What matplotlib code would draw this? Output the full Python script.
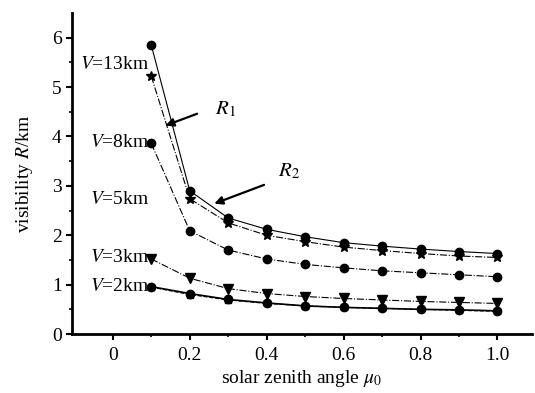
import matplotlib
matplotlib.use("Agg")
import matplotlib.pyplot as plt

plt.rcParams['font.family'] = ['Liberation Serif', 'DejaVu Serif']
plt.rcParams['mathtext.fontset'] = 'stix'

mu0 = [0.1, 0.2, 0.3, 0.4, 0.5, 0.6, 0.7, 0.8, 0.9, 1.0]
r1_v13 = [5.85, 2.90, 2.35, 2.12, 1.97, 1.85, 1.78, 1.72, 1.67, 1.63]
r2_v13 = [5.22, 2.74, 2.25, 2.00, 1.87, 1.76, 1.69, 1.63, 1.58, 1.55]
v8 = [3.86, 2.09, 1.70, 1.52, 1.41, 1.34, 1.28, 1.24, 1.20, 1.16]
v3 = [1.52, 1.13, 0.92, 0.82, 0.76, 0.72, 0.69, 0.66, 0.64, 0.62]
v2a = [0.96, 0.82, 0.70, 0.63, 0.57, 0.54, 0.52, 0.50, 0.49, 0.47]
v2b = [0.95, 0.80, 0.69, 0.62, 0.57, 0.54, 0.52, 0.50, 0.48, 0.46]

labels = ['$V$=13km', '$V$=8km', '$V$=5km', '$V$=3km', '$V$=2km']
label_y = [5.45, 3.87, 2.72, 1.54, 0.97]
xticks = [0, 0.2, 0.4, 0.6, 0.8, 1.0]
xticklabels = ['0', '0.2', '0.4', '0.6', '0.8', '1.0']
yticks = [0, 1, 2, 3, 4, 5, 6]

fig = plt.figure(figsize=(5.35, 3.93), dpi=100)
ax = fig.add_axes([0.1346, 0.150, 0.86, 0.817])

lw = 0.8
ax.plot(mu0, r1_v13, color='black', lw=lw, ls='-', marker='o', ms=6)
ax.plot(mu0, r2_v13, color='black', lw=lw, ls='-.', marker='*', ms=7)
ax.plot(mu0, v8, color='black', lw=lw, ls='-.', marker='o', ms=6)
ax.plot(mu0, v3, color='black', lw=lw, ls='-.', marker='v', ms=7)
ax.plot(mu0, v2a, color='black', lw=1.2, ls='-', marker='o', ms=6)
ax.plot(mu0, v2b, color='black', lw=lw, ls='--', marker='s', ms=5)

for lab, yy in zip(labels, label_y):
    ax.text(0.095, yy, lab, ha='right', va='center', fontsize=14)

ax.annotate('', xy=(0.130, 4.20), xytext=(0.226, 4.48),
            arrowprops=dict(arrowstyle='-|>', color='black', lw=1.6, mutation_scale=12))
ax.text(0.265, 4.55, '$R_1$', fontsize=15, ha='left', va='center')
ax.annotate('', xy=(0.257, 2.62), xytext=(0.40, 3.04),
            arrowprops=dict(arrowstyle='-|>', color='black', lw=1.6, mutation_scale=12))
ax.text(0.43, 3.30, '$R_2$', fontsize=15, ha='left', va='center')

ax.set_xlim(-0.106, 1.09)
ax.set_ylim(0, 6.5)
ax.set_xticks(xticks)
ax.set_xticklabels(xticklabels)
ax.set_xticks([0.1, 0.3, 0.5, 0.7, 0.9], minor=True)
ax.set_yticks(yticks)
ax.set_yticks([0.5, 1.5, 2.5, 3.5, 4.5, 5.5], minor=True)
ax.tick_params(axis='both', which='major', direction='out', length=4, width=1.5, labelsize=14)
ax.tick_params(axis='x', which='major', pad=5)
ax.tick_params(axis='both', which='minor', direction='out', length=2.5, width=1.2)
for s in ['top', 'right']:
    ax.spines[s].set_visible(False)
for s in ['left', 'bottom']:
    ax.spines[s].set_linewidth(2)

ax.set_xlabel('solar zenith angle $\\mu_0$', fontsize=14, labelpad=3)
ax.set_ylabel('visibility $R$/km', fontsize=14, labelpad=12)

fig.savefig('out.png', dpi=100)
